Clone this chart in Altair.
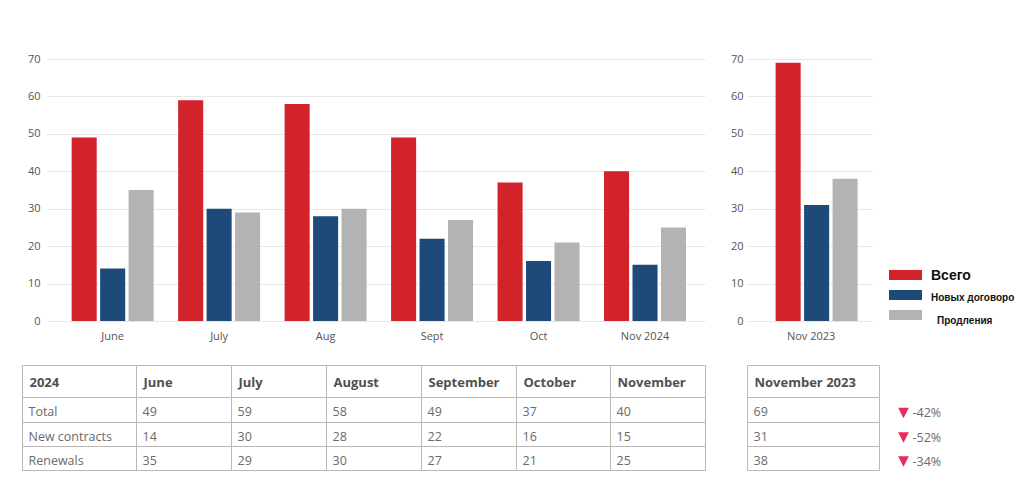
import altair as alt
import pandas as pd

# ---------------- data ----------------
months = ["June", "July", "Aug", "Sept", "Oct", "Nov 2024"]
total_2024 = [49, 59, 58, 49, 37, 40]
new_2024 = [14, 30, 28, 22, 16, 15]
renew_2024 = [35, 29, 30, 27, 21, 25]

prev_label = "Nov 2023"
prev_values = [69, 31, 38]  # total, new, renewals

series = ["Всего", "Новых договоро", "Продления"]

table_header = ["2024", "June", "July", "August", "September", "October", "November"]
row_labels = ["Total", "New contracts", "Renewals"]
prev_header = "November 2023"
changes = ["-42%", "-52%", "-34%"]

# ---------------- style ----------------
FONT = "Open Sans"
LEGEND_FONT = "Liberation Sans"
bar_colors = ["#d2232a", "#1e4a7a", "#b3b3b3"]
legend_colors = ["#d8252b", "#24497c", "#9b9b9b"]
grid_color = "#e8e8e8"
label_color = "#555555"
border_color = "#b8b8b8"
arrow_color = "#ea2a5c"

# ---------------- bar data ----------------
rows = []
for i, m in enumerate(months):
    for s, vals in zip(series, [total_2024, new_2024, renew_2024]):
        rows.append({"month": m, "series": s, "value": vals[i]})
bars_df = pd.DataFrame(rows)
prev_df = pd.DataFrame({"month": [prev_label] * 3, "series": series, "value": prev_values})

y_scale = alt.Scale(domain=[0, 70], nice=False)
color_enc = alt.Color("series:N", sort=series,
                      scale=alt.Scale(domain=series, range=bar_colors), legend=None)


def y_axis(pad):
    return alt.Axis(values=list(range(0, 71, 10)), domain=False, ticks=False,
                    labelPadding=pad, labelFontSize=11, labelColor=label_color,
                    labelFont=FONT, gridColor=grid_color, title=None)


x_axis = alt.Axis(domain=False, ticks=False, labelAngle=0, labelPadding=9,
                  labelFontSize=11, labelColor=label_color, labelFont=FONT, title=None)

left_bar = alt.Chart(bars_df).mark_bar().encode(
    x=alt.X("month:N", sort=months,
            scale=alt.Scale(paddingInner=0.23, paddingOuter=0.205, align=0.565), axis=x_axis),
    xOffset=alt.XOffset("series:N", sort=series, scale=alt.Scale(paddingInner=0.12)),
    y=alt.Y("value:Q", scale=y_scale, axis=y_axis(7)),
    color=color_enc,
).properties(width=658, height=262)

right_bar = alt.Chart(prev_df).mark_bar().encode(
    x=alt.X("month:N", scale=alt.Scale(paddingInner=0, paddingOuter=0.38, align=0.53), axis=x_axis),
    xOffset=alt.XOffset("series:N", sort=series, scale=alt.Scale(paddingInner=0.1)),
    y=alt.Y("value:Q", scale=y_scale, axis=y_axis(4)),
    color=color_enc,
).properties(width=125, height=262)

# ---------------- legend ----------------
legend_df = pd.DataFrame({"series": series})
ly = alt.Scale(domain=series, range=[206, 266], paddingInner=0.5, paddingOuter=0.25)

swatch = alt.Chart(legend_df).mark_rect().encode(
    x=alt.value(-25), x2=alt.value(8),
    y=alt.Y("series:N", sort=series, scale=ly, axis=None),
    color=alt.Color("series:N", sort=series,
                    scale=alt.Scale(domain=series, range=legend_colors), legend=None),
)


def legend_text(name, size, dx, dy):
    return alt.Chart(legend_df).transform_filter(alt.datum.series == name).mark_text(
        align="left", baseline="middle", font=LEGEND_FONT, fontWeight="bold",
        fontSize=size, dx=dx, dy=dy, color="#111111",
    ).encode(
        x=alt.value(17),
        y=alt.Y("series:N", sort=series, scale=ly, axis=None),
        text="series:N",
    )


legend = alt.layer(
    swatch,
    legend_text(series[0], 14, 0, 1),
    legend_text(series[1], 10, 0, 3),
    legend_text(series[2], 10, 6, 6),
).properties(width=102, height=262)

# ---------------- tables ----------------
left_col_w = [114, 95, 95, 95, 95, 94, 95]
row_h = [32, 25, 24, 24]
table_values = [total_2024, new_2024, renew_2024]


def edges(ws):
    out = [0]
    for w in ws:
        out.append(out[-1] + w)
    return out


def table_cells(col_w, header, labels, values_by_row):
    xe = edges(col_w)
    ye = edges(row_h)
    cells = []
    for r in range(len(row_h)):
        for c in range(len(col_w)):
            if r == 0:
                txt = header[c]
            elif labels is not None and c == 0:
                txt = labels[r - 1]
            else:
                cc = c - 1 if labels is not None else c
                txt = str(values_by_row[r - 1][cc])
            cells.append({"x0": xe[c], "x1": xe[c + 1], "y0": ye[r], "y1": ye[r + 1],
                          "yc": (ye[r] + ye[r + 1]) / 2, "text": txt, "head": r == 0})
    return pd.DataFrame(cells), xe[-1], ye[-1]


def table_chart(df, total_w, total_h, x_range, extra=None):
    xs = alt.Scale(domain=[0, total_w], range=x_range, nice=False, zero=False)
    ys = alt.Scale(domain=[0, total_h], range=[0.5, total_h + 0.5], nice=False, zero=False)
    rects = alt.Chart(df).mark_rect(fill="white", stroke=border_color, strokeWidth=1).encode(
        x=alt.X("x0:Q", scale=xs, axis=None), x2="x1:Q",
        y=alt.Y("y0:Q", scale=ys, axis=None), y2="y1:Q",
    )
    head = alt.Chart(df).transform_filter(alt.datum.head == True).mark_text(
        align="left", baseline="middle", font=FONT, fontWeight="bold", fontSize=13,
        color="#505050", dx=7, dy=1,
    ).encode(x=alt.X("x0:Q", scale=xs, axis=None), y=alt.Y("yc:Q", scale=ys, axis=None), text="text:N")
    body = alt.Chart(df).transform_filter(alt.datum.head == False).mark_text(
        align="left", baseline="middle", font=FONT, fontSize=12.5,
        color="#6a6a6a", dx=6, dy=2,
    ).encode(x=alt.X("x0:Q", scale=xs, axis=None), y=alt.Y("yc:Q", scale=ys, axis=None), text="text:N")
    layers = [rects, head, body]
    if extra is not None:
        layers += extra(xs, ys)
    return alt.layer(*layers)


left_df, lw, lh = table_cells(left_col_w, table_header, row_labels, table_values)
left_table = table_chart(left_df, lw, lh, [-24.5, lw - 24.5]).properties(width=658, height=lh)

right_col_w = [132]
prev_by_row = [[v] for v in prev_values]
right_df, rw, rh = table_cells(right_col_w, [prev_header], None, prev_by_row)

ye_all = edges(row_h)
change_df = pd.DataFrame({
    "text": changes,
    "yc": [(ye_all[i + 1] + ye_all[i + 2]) / 2 for i in range(3)],
    "xa": [rw + 24] * 3,
})


def change_layers(xs, ys):
    tri = alt.Chart(change_df).mark_point(
        shape="M-1,-1L1,-1L0,1Z", filled=True, size=115, color=arrow_color, opacity=1,
        yOffset=3,
    ).encode(x=alt.X("xa:Q", scale=xs, axis=None), y=alt.Y("yc:Q", scale=ys, axis=None))
    txt = alt.Chart(change_df).mark_text(
        align="left", baseline="middle", font=FONT, fontSize=12.5, color="#6a6a6a", dx=9, dy=3,
    ).encode(x=alt.X("xa:Q", scale=xs, axis=None), y=alt.Y("yc:Q", scale=ys, axis=None), text="text:N")
    return [tri, txt]


right_table = table_chart(right_df, rw + 70, rh, [0.5, rw + 70.5], extra=change_layers).properties(
    width=125, height=rh)

chart = alt.concat(
    left_bar, right_bar, legend, left_table, right_table,
    columns=3, spacing={"row": 44, "column": 42}, bounds="flush",
).properties(
    padding={"left": 14, "top": 45, "right": 0, "bottom": 4},
    background="white",
).configure_view(stroke=None)

chart.save("out.html", embed_options={"renderer": "svg", "actions": False})
